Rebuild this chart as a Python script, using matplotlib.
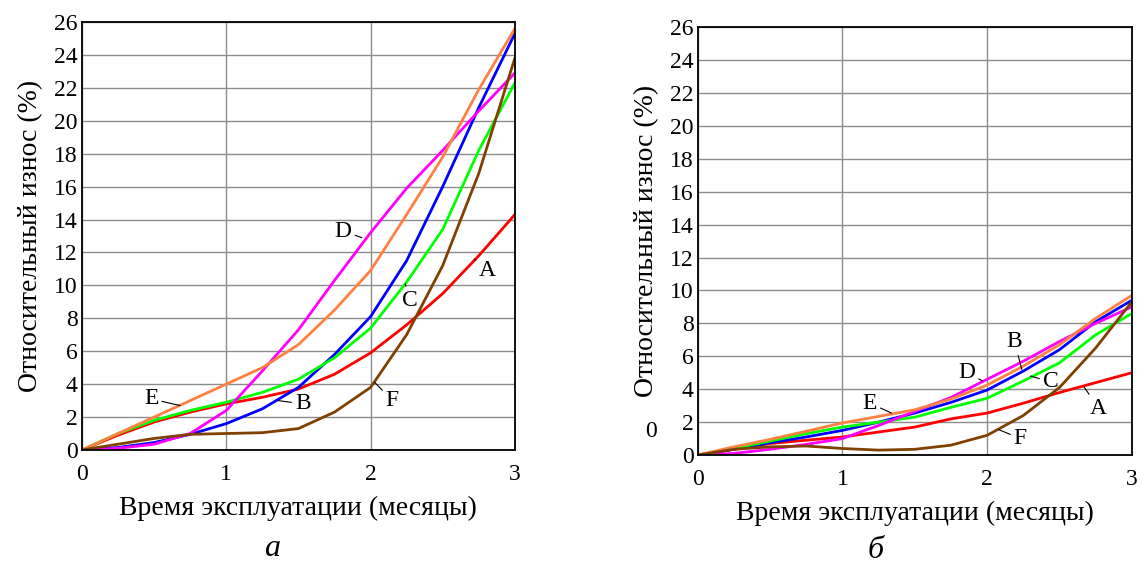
"""Relative wear vs service time, two panels (a, b)."""

import matplotlib
matplotlib.use('Agg')
import matplotlib.pyplot as plt

months = [0, 0.25, 0.5, 0.75, 1, 1.25, 1.5, 1.75, 2, 2.25, 2.5, 2.75, 3]

# panel a
a_A = [0, 0.9, 1.7, 2.3, 2.8, 3.2, 3.7, 4.6, 5.9, 7.6, 9.5, 11.8, 14.3]
a_B = [0, 0.15, 0.45, 0.95, 1.6, 2.5, 3.8, 5.8, 8.1, 11.5, 16.0, 20.8, 25.3]
a_C = [0, 1.0, 1.8, 2.4, 2.9, 3.5, 4.3, 5.6, 7.4, 10.2, 13.4, 18.2, 22.3]
a_D = [0, 0.1, 0.35, 1.0, 2.4, 4.8, 7.3, 10.3, 13.2, 15.9, 18.2, 20.6, 22.9]
a_E = [0, 1.0, 2.0, 3.0, 4.0, 5.0, 6.4, 8.5, 10.9, 14.3, 17.8, 21.9, 25.6]
a_F = [0, 0.35, 0.7, 0.95, 1.0, 1.05, 1.3, 2.3, 3.8, 7.0, 11.2, 16.8, 23.8]

# panel b
b_A = [0, 0.35, 0.7, 0.9, 1.1, 1.4, 1.7, 2.2, 2.55, 3.15, 3.8, 4.4, 5.0]
b_B = [0, 0.35, 0.75, 1.1, 1.5, 2.0, 2.55, 3.2, 3.95, 5.1, 6.4, 8.1, 9.4]
b_C = [0, 0.4, 0.85, 1.3, 1.7, 2.0, 2.3, 2.9, 3.45, 4.5, 5.6, 7.3, 8.6]
b_D = [0, 0.1, 0.35, 0.65, 1.0, 1.8, 2.65, 3.5, 4.6, 5.7, 6.9, 8.0, 9.0]
b_E = [0, 0.5, 0.95, 1.45, 1.95, 2.35, 2.75, 3.4, 4.25, 5.4, 6.7, 8.3, 9.7]
b_F = [0, 0.35, 0.5, 0.55, 0.4, 0.3, 0.35, 0.6, 1.2, 2.4, 4.1, 6.5, 9.3]

names = ['A', 'B', 'C', 'D', 'E', 'F']
colors = ['#ff0000', '#0000ff', '#00ff00', '#ff00ff', '#ff8040', '#804000']

# label text position, leader end (data coords)
a_labels = {'A': ((2.81, 10.9), (2.72, 11.6)),
            'B': ((1.53, 2.8), (1.36, 3.0)),
            'C': ((2.27, 9.1), (2.24, 10.1)),
            'D': ((1.81, 13.3), (1.94, 12.9)),
            'E': ((0.48, 3.1), (0.68, 2.7)),
            'F': ((2.15, 3.0), (2.03, 4.1))}
b_labels = {'A': ((2.77, 2.85), (2.67, 4.15)),
            'B': ((2.19, 6.9), (2.24, 5.2)),
            'C': ((2.44, 4.45), (2.30, 4.8)),
            'D': ((1.86, 5.0), (1.97, 4.5)),
            'E': ((1.19, 3.15), (1.34, 2.55)),
            'F': ((2.23, 1.0), (2.08, 1.55))}

plt.rcParams['font.family'] = ['Liberation Serif', 'DejaVu Serif']

fig = plt.figure(figsize=(11.42, 5.66), dpi=100)
ax1 = fig.add_axes([0.0718, 0.205, 0.379, 0.756])
ax2 = fig.add_axes([0.611, 0.196, 0.380, 0.756])


def draw_panel(ax, series, labels):
    for name, ys, c in zip(names, series, colors):
        ax.plot(months, ys, '-', color=c, linewidth=2.0, solid_capstyle='round')
    for name in names:
        (tx, ty), (px, py) = labels[name]
        ax.annotate(name, xy=(px, py), xytext=(tx, ty), fontsize=17,
                    ha='center', va='center',
                    arrowprops=dict(arrowstyle='-', lw=0.8, color='k',
                                    shrinkA=0.5, shrinkB=0))
    ax.set_xlim(0, 3)
    ax.set_ylim(0, 26)
    ax.set_xticks([0, 1, 2, 3])
    ax.set_yticks(range(0, 27, 2))
    ax.tick_params(length=0, labelsize=17)
    ax.tick_params(axis='x', pad=10)
    ax.tick_params(axis='y', pad=3)
    ax.grid(color='#8c8c8c', linewidth=1.0)
    ax.set_axisbelow(True)
    for s in ax.spines.values():
        s.set_linewidth(1.3)
    ax.set_xlabel('Время эксплуатации (месяцы)', fontsize=20, labelpad=8)
    ax.set_ylabel('Относительный износ (%)', fontsize=20, labelpad=8)


draw_panel(ax1, [a_A, a_B, a_C, a_D, a_E, a_F], a_labels)
draw_panel(ax2, [b_A, b_B, b_C, b_D, b_E, b_F], b_labels)

fig.text(0.570, 0.237, '0', fontsize=17, ha='center', va='center')
fig.text(272 / 1142, 1 - 548 / 566, 'а', fontsize=23, style='italic',
         ha='center', va='center')
fig.text(876 / 1142, 1 - 550 / 566, 'б', fontsize=23, style='italic',
         ha='center', va='center')

fig.savefig('out.png', dpi=100)
